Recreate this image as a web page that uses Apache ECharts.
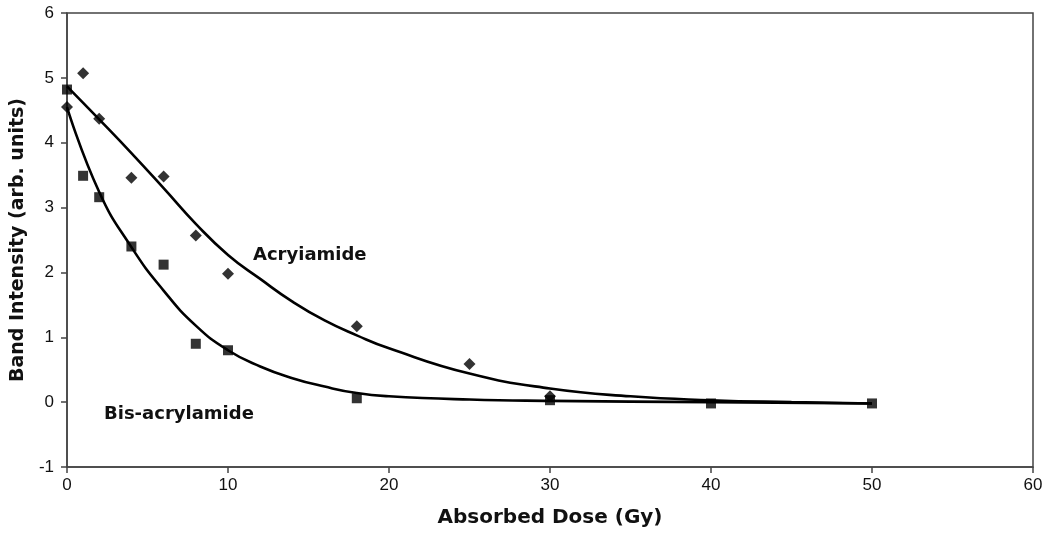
<!DOCTYPE html>
<html>
<head>
<meta charset="utf-8">
<script src="https://cdn.jsdelivr.net/npm/echarts@6/dist/echarts.min.js"></script>
<style>
html,body{margin:0;padding:0;background:#fff;}
#c{width:1050px;height:540px;}
</style>
</head>
<body>
<div id="c"></div>
<script>
// Measured points
var acrylDose = [0, 1, 2, 4, 6, 8, 10, 18, 25, 30];
var acrylVals = [4.55, 5.07, 4.37, 3.46, 3.48, 2.57, 1.98, 1.17, 0.59, 0.09];
var bisDose = [0, 1, 2, 4, 6, 8, 10, 18, 30, 40, 50];
var bisVals = [4.82, 3.49, 3.16, 2.40, 2.12, 0.90, 0.80, 0.06, 0.03, -0.02, -0.02];
// Fitted curves
var acrylFitDose = [0, 2, 4, 6, 8, 10, 12, 14, 16, 18, 20, 25, 30, 35, 40, 45, 50];
var acrylFitVals = [4.87, 4.36, 3.84, 3.30, 2.75, 2.27, 1.90, 1.55, 1.26, 1.03, 0.83, 0.44, 0.21, 0.09, 0.03, 0.00, -0.02];
var bisFitDose = [0, 2, 4, 6, 8, 10, 12, 14, 16, 18, 20, 25, 30, 40, 50];
var bisFitVals = [4.55, 3.24, 2.39, 1.72, 1.18, 0.80, 0.55, 0.37, 0.24, 0.14, 0.09, 0.04, 0.02, 0.00, -0.02];
var xTicks = {min: 0, max: 60, interval: 10};
var yTicks = {min: -1, max: 6, interval: 1};

function pairs(xs, ys){ return xs.map(function(x,i){ return [x, ys[i]]; }); }

var chart = echarts.init(document.getElementById('c'));
var font = 'Arial, "Liberation Sans", sans-serif';
var boldFont = '"DejaVu Sans", sans-serif';
chart.setOption({
  animation: false,
  backgroundColor: '#fff',
  grid: {left: 67, right: 17, top: 13, bottom: 73, show: true, borderColor: '#444', borderWidth: 1.5, backgroundColor: 'transparent'},
  xAxis: {
    type: 'value', min: xTicks.min, max: xTicks.max, interval: xTicks.interval,
    name: 'Absorbed Dose (Gy)', nameLocation: 'middle', nameGap: 41,
    nameTextStyle: {fontFamily: boldFont, fontWeight: 'bold', fontSize: 20, color: '#111'},
    axisLine: {onZero: false, lineStyle: {color: '#444', width: 1.5}},
    axisTick: {show: true, length: 6, lineStyle: {color: '#444', width: 1.5}},
    axisLabel: {margin: 10, fontFamily: font, fontSize: 17, color: '#111'},
    splitLine: {show: false}
  },
  yAxis: {
    type: 'value', min: yTicks.min, max: yTicks.max, interval: yTicks.interval,
    name: 'Band Intensity (arb. units)', nameLocation: 'middle', nameGap: 37,
    nameTextStyle: {fontFamily: boldFont, fontWeight: 'bold', fontSize: 19, color: '#111'},
    axisLine: {onZero: false, lineStyle: {color: '#444', width: 1.5}},
    axisTick: {show: true, length: 6, lineStyle: {color: '#444', width: 1.5}},
    axisLabel: {margin: 13, fontFamily: font, fontSize: 17, color: '#111'},
    splitLine: {show: false}
  },
  graphic: [
    {type: 'text', left: 253, top: 246, style: {text: 'Acryiamide', font: 'bold 18px ' + boldFont, fill: '#111'}},
    {type: 'text', left: 104, top: 405, style: {text: 'Bis-acrylamide', font: 'bold 18px ' + boldFont, fill: '#111'}}
  ],
  series: [
    {type: 'line', data: pairs(acrylFitDose, acrylFitVals), smooth: 0.5, showSymbol: false, lineStyle: {color: '#000', width: 2.6}, z: 2},
    {type: 'line', data: pairs(bisFitDose, bisFitVals), smooth: 0.5, showSymbol: false, lineStyle: {color: '#000', width: 2.6}, z: 2},
    {type: 'scatter', data: pairs(acrylDose, acrylVals), symbol: 'diamond', symbolSize: 12, itemStyle: {color: '#000'}, z: 3},
    {type: 'scatter', data: pairs(bisDose, bisVals), symbol: 'rect', symbolSize: 10, itemStyle: {color: '#000'}, z: 3}
  ]
});
</script>
</body>
</html>
